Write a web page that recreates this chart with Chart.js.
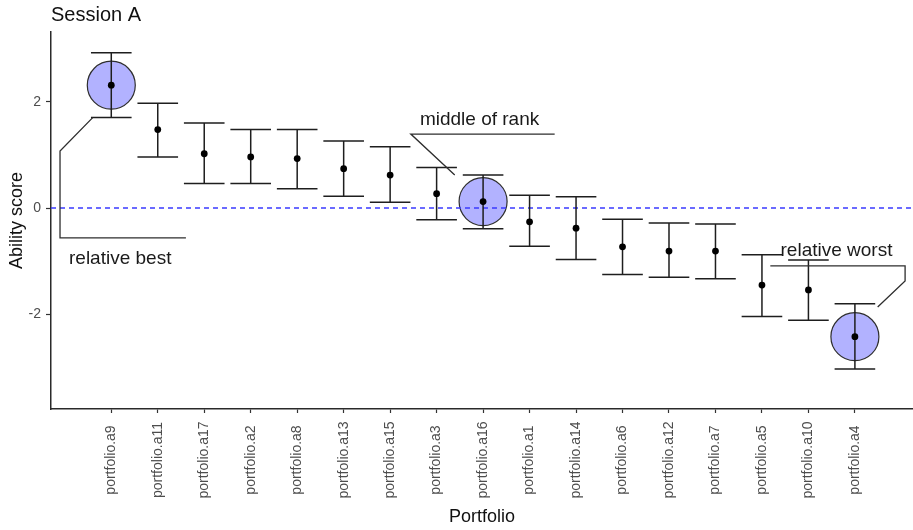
<!DOCTYPE html>
<html>
<head>
<meta charset="utf-8">
<title>Session A – Ability score by portfolio</title>
<script src="https://cdn.jsdelivr.net/npm/chart.js@4.4.1/dist/chart.umd.min.js"></script>
<style>
  html, body { margin: 0; padding: 0; background: #ffffff; }
  canvas { display: block; }
</style>
</head>
<body>
<canvas id="chart" width="913" height="530"></canvas>
<script>
// Portfolios, ordered from highest to lowest ability score
const categories = [
  'portfolio.a9', 'portfolio.a11', 'portfolio.a17', 'portfolio.a2', 'portfolio.a8',
  'portfolio.a13', 'portfolio.a15', 'portfolio.a3', 'portfolio.a16', 'portfolio.a1',
  'portfolio.a14', 'portfolio.a6', 'portfolio.a12', 'portfolio.a7', 'portfolio.a5',
  'portfolio.a10', 'portfolio.a4'
];

// Estimated ability score per portfolio
const scores = [2.31, 1.475, 1.02, 0.96, 0.93, 0.74, 0.62, 0.27, 0.12, -0.26,
                -0.38, -0.73, -0.81, -0.81, -1.45, -1.54, -2.42];

// Interval bounds around each score
const lower = [1.70, 0.96, 0.46, 0.46, 0.36, 0.22, 0.11, -0.22, -0.39, -0.72,
               -0.97, -1.25, -1.30, -1.33, -2.04, -2.11, -3.03];
const upper = [2.92, 1.97, 1.60, 1.475, 1.475, 1.26, 1.15, 0.76, 0.62, 0.24,
               0.21, -0.21, -0.28, -0.30, -0.88, -0.98, -1.80];

// Y axis tick values
const yTicks = [-2, 0, 2];

// Portfolios singled out with a circle
const highlighted = ['portfolio.a9', 'portfolio.a16', 'portfolio.a4'];

// Reference level drawn as a dashed line
const referenceLevel = 0;

// Callouts placed in data coordinates (x = portfolio index, y = score)
const callouts = [
  { text: 'relative best',  at: [-0.91, -1.06],
    path: [[1.606, -0.56], [-1.103, -0.56], [-1.103, 1.07], [-0.40, 1.70]] },
  { text: 'middle of rank', at: [6.64, 1.57],
    path: [[9.54, 1.39], [6.445, 1.39], [7.39, 0.62]] },
  { text: 'relative worst', at: [14.40, -0.91],
    path: [[14.18, -1.09], [17.08, -1.09], [17.08, -1.37], [16.49, -1.86]] }
];

const FONT = "'Liberation Sans', Arial, Helvetica, sans-serif";
const CAP_HALF = 0.437;          // half width of interval caps, in category units
const X_MIN = -1.297, X_MAX = 17.25;
const Y_MIN = -3.78,  Y_MAX = 3.31;

// Draws the reference line, interval bars, callouts and labels
const decorations = {
  id: 'decorations',
  beforeDatasetDraw(chart, args) {
    if (args.index !== 1) return;
    const { ctx, chartArea } = chart;
    const xs = chart.scales.x, ys = chart.scales.y;

    // dashed reference line
    ctx.save();
    ctx.strokeStyle = '#3a3aff';
    ctx.lineWidth = 1.5;
    ctx.setLineDash([5, 4]);
    const y0 = ys.getPixelForValue(referenceLevel);
    ctx.beginPath();
    ctx.moveTo(chartArea.left, y0);
    ctx.lineTo(chartArea.right, y0);
    ctx.stroke();
    ctx.restore();

    // interval bars with caps
    ctx.save();
    ctx.strokeStyle = '#1e1e1e';
    ctx.lineWidth = 1.5;
    categories.forEach((c, i) => {
      const x = xs.getPixelForValue(i);
      const xl = xs.getPixelForValue(i - CAP_HALF);
      const xr = xs.getPixelForValue(i + CAP_HALF);
      const yt = ys.getPixelForValue(upper[i]);
      const yb = ys.getPixelForValue(lower[i]);
      ctx.beginPath();
      ctx.moveTo(x, yt); ctx.lineTo(x, yb);
      ctx.moveTo(xl, yt); ctx.lineTo(xr, yt);
      ctx.moveTo(xl, yb); ctx.lineTo(xr, yb);
      ctx.stroke();
    });
    ctx.restore();
  },
  afterDatasetsDraw(chart) {
    const { ctx } = chart;
    const xs = chart.scales.x, ys = chart.scales.y;
    ctx.save();
    callouts.forEach(c => {
      ctx.strokeStyle = '#2e2e2e';
      ctx.lineWidth = 1.3;
      ctx.beginPath();
      c.path.forEach(([px, py], k) => {
        const X = xs.getPixelForValue(px), Y = ys.getPixelForValue(py);
        if (k === 0) ctx.moveTo(X, Y); else ctx.lineTo(X, Y);
      });
      ctx.stroke();
      ctx.fillStyle = '#1a1a1a';
      ctx.font = '19px ' + FONT;
      ctx.textAlign = 'left';
      ctx.textBaseline = 'alphabetic';
      ctx.fillText(c.text, xs.getPixelForValue(c.at[0]), ys.getPixelForValue(c.at[1]));
    });
    ctx.restore();
  },
  afterDraw(chart) {
    const { ctx, chartArea } = chart;
    const xs = chart.scales.x;
    ctx.save();
    // panel title
    ctx.fillStyle = '#111111';
    ctx.font = '20px ' + FONT;
    ctx.textAlign = 'left';
    ctx.textBaseline = 'alphabetic';
    ctx.fillText('Session A', chartArea.left, 21);
    // vertical category labels, centred below the axis
    ctx.fillStyle = '#4d4d4d';
    ctx.font = '14px ' + FONT;
    ctx.textAlign = 'center';
    ctx.textBaseline = 'middle';
    categories.forEach((c, i) => {
      ctx.save();
      ctx.translate(xs.getPixelForValue(i), chartArea.bottom + 51);
      ctx.rotate(-Math.PI / 2);
      ctx.fillText(c, 0, 0);
      ctx.restore();
    });
    ctx.restore();
  }
};

new Chart(document.getElementById('chart'), {
  type: 'scatter',
  data: {
    datasets: [
      {
        label: 'highlight',
        data: highlighted.map(c => {
          const i = categories.indexOf(c);
          return { x: i, y: scores[i] };
        }),
        pointRadius: 24,
        pointHoverRadius: 24,
        backgroundColor: 'rgba(0, 0, 255, 0.3)',
        borderColor: '#2e2e2e',
        borderWidth: 1.2,
        order: 2
      },
      {
        label: 'score',
        data: scores.map((v, i) => ({ x: i, y: v })),
        pointRadius: 3.4,
        pointHoverRadius: 3.4,
        backgroundColor: '#000000',
        borderColor: '#000000',
        borderWidth: 0,
        order: 1
      }
    ]
  },
  options: {
    responsive: false,
    animation: false,
    events: [],
    layout: { autoPadding: false, padding: { top: 32, left: 0, right: 0, bottom: 0 } },
    plugins: {
      legend: { display: false },
      tooltip: { enabled: false },
      title: { display: false }
    },
    scales: {
      x: {
        type: 'linear',
        min: X_MIN,
        max: X_MAX,
        afterBuildTicks: s => { s.ticks = categories.map((_, i) => ({ value: i })); },
        afterFit: s => { s.height = 121; },
        ticks: { display: false },
        grid: { drawOnChartArea: false, drawTicks: true, tickLength: 4, tickColor: '#333333', tickWidth: 1.2 },
        border: { display: true, color: '#2a2a2a', width: 1.5 },
        title: {
          display: true, text: 'Portfolio', color: '#111111',
          font: { family: FONT, size: 18 }, padding: { top: 0, bottom: 2 }
        }
      },
      y: {
        type: 'linear',
        min: Y_MIN,
        max: Y_MAX,
        afterBuildTicks: s => { s.ticks = yTicks.map(v => ({ value: v })); },
        afterFit: s => { s.width = 51; },
        ticks: {
          color: '#4d4d4d', padding: 5,
          font: { family: FONT, size: 14 },
          callback: v => String(v)
        },
        grid: { drawOnChartArea: false, drawTicks: true, tickLength: 5, tickColor: '#333333', tickWidth: 1.2 },
        border: { display: true, color: '#2a2a2a', width: 1.5 },
        title: {
          display: true, text: 'Ability score', color: '#111111',
          font: { family: FONT, size: 18 }, padding: { top: 6, bottom: 0 }
        }
      }
    }
  },
  plugins: [decorations]
});
</script>
</body>
</html>
